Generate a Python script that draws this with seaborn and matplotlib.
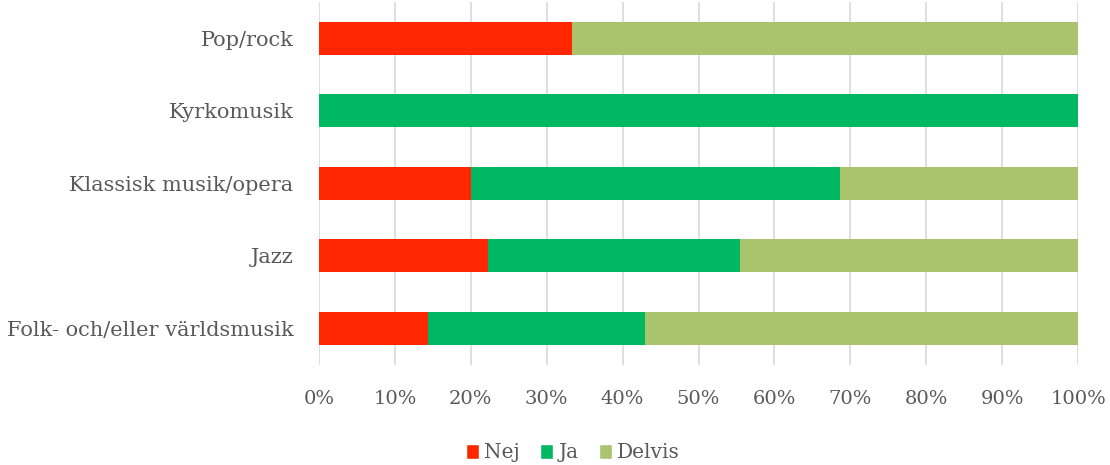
import numpy as np
import pandas as pd
import matplotlib
matplotlib.use("Agg")
import matplotlib.pyplot as plt
import seaborn as sns
from matplotlib.patches import Patch
from matplotlib.ticker import PercentFormatter

# Données (parts en %)
genres = ["Pop/rock", "Kyrkomusik", "Klassisk musik/opera", "Jazz",
          "Folk- och/eller världsmusik"]
nej = [33.3, 0.0, 20.0, 22.2, 14.3]
ja = [0.0, 100.0, 48.6, 33.3, 28.6]
delvis = [66.7, 0.0, 31.4, 44.5, 57.1]

serier = ["Nej", "Ja", "Delvis"]
farger = {"Nej": "#FF2600", "Ja": "#00B862", "Delvis": "#AAC36D"}

df = pd.DataFrame({"genre": genres, "Nej": nej, "Ja": ja, "Delvis": delvis})
# cumul pour empiler les barres (on dessine la plus longue d'abord)
df["cum_nej"] = df["Nej"] / 100
df["cum_ja"] = (df["Nej"] + df["Ja"]) / 100
df["cum_delvis"] = (df["Nej"] + df["Ja"] + df["Delvis"]) / 100

sns.set_style("white")
plt.rcParams["font.family"] = ["DejaVu Serif"]
textfarg = "#595959"

fig = plt.figure(figsize=(11.1, 4.65), dpi=100)
ax = fig.add_axes([0.2874, 0.216, 0.6838, 0.7797])

for col, s in [("cum_delvis", "Delvis"), ("cum_ja", "Ja"), ("cum_nej", "Nej")]:
    sns.barplot(data=df, x=col, y="genre", color=farger[s], orient="h",
                width=0.46, ax=ax, saturation=1, linewidth=0)

ax.set_xlim(0, 1)
ax.set_ylim(4.5, -0.5)
ax.set_xticks(np.linspace(0, 1, 11))
ax.xaxis.set_major_formatter(PercentFormatter(1.0, decimals=0))
ax.set_xlabel("")
ax.set_ylabel("")
ax.grid(axis="x", color="#D9D9D9", linewidth=1.2)
ax.set_axisbelow(True)
for sp in ax.spines.values():
    sp.set_visible(False)
ax.tick_params(axis="both", length=0, colors=textfarg)
ax.tick_params(axis="x", pad=18, labelsize=14)
ax.tick_params(axis="y", pad=18.5, labelsize=15)

handles = [Patch(facecolor=farger[s], label=s) for s in serier]
fig.legend(handles=handles, loc="center", bbox_to_anchor=(0.516, 0.026),
           ncol=3, frameon=False, fontsize=14.5, handlelength=0.65,
           handleheight=0.8, handletextpad=0.25, columnspacing=1.0,
           labelcolor=textfarg)

fig.savefig("out.png", dpi=100)
